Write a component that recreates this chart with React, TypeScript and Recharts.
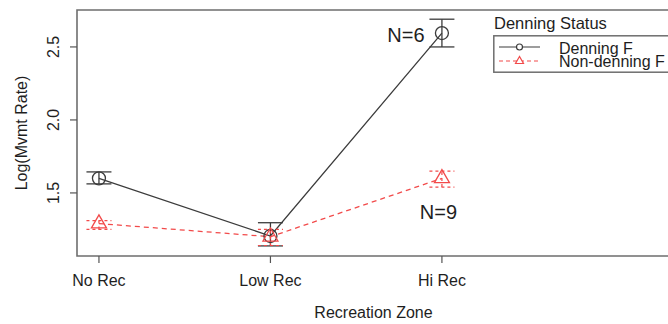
import React from 'react'
import { LineChart, Line, XAxis, YAxis, ErrorBar, ReferenceArea, ReferenceDot, Legend } from 'recharts'

// the page comes with an 8px body margin; drop it so the picture starts at 0,0
document.documentElement.style.overflow = 'hidden'
document.body.style.margin = '0'
document.body.style.overflow = 'hidden'

const FONT = '"Liberation Sans", Arial, Helvetica, sans-serif'
const DARK = '#3c3c3c'
const RED = '#f24a4a'
const BORDER = '#6e6e6e'
const TEXT = '#1e1e1e'

// Recreation zones on the x axis
const zones = ['No Rec', 'Low Rec', 'Hi Rec']
const zonePos = [1, 2, 3]

// Denning females: mean and error bar ends
const denningMean = [1.6, 1.205, 2.595]
const denningLow = [1.562, 1.137, 2.5]
const denningHigh = [1.644, 1.296, 2.69]

// Non-denning females
const nonDenMean = [1.29, 1.2, 1.6]
const nonDenLow = [1.25, 1.14, 1.54]
const nonDenHigh = [1.31, 1.25, 1.65]

const seriesNames = ['Denning F', 'Non-denning F']
const yTicks = [1.5, 2.0, 2.5]
const xDomain = [0.872, 4.33]
const yDomain = [1.068, 2.753]

// sample size notes
const notes = [
    { x: 2.79, y: 2.582, text: 'N=6' },
    { x: 2.98, y: 1.372, text: 'N=9' },
]

const data = zonePos.map((x, i) => ({
    x,
    denning: denningMean[i],
    denErr: [denningMean[i] - denningLow[i], denningHigh[i] - denningMean[i]],
    nonDen: nonDenMean[i],
    nonErr: [nonDenMean[i] - nonDenLow[i], nonDenHigh[i] - nonDenMean[i]],
}))

function CircleDot(props: any) {
    const { cx, cy, index } = props
    return <circle key={`c-${index}`} cx={cx} cy={cy} r={6.5} fill="none" stroke={DARK} strokeWidth={1.3} />
}

function TriangleDot(props: any) {
    const { cx, cy, index } = props
    const pts = `${cx},${cy - 8.7} ${cx - 7.5},${cy + 4.3} ${cx + 7.5},${cy + 4.3}`
    return <polygon key={`t-${index}`} points={pts} fill="none" stroke={RED} strokeWidth={1.3} />
}

function XTick({ x, y, payload }: any) {
    return (
        <text x={x} y={y + 21} textAnchor="middle" fontSize={16} fill={TEXT}>
            {zones[zonePos.indexOf(payload.value)]}
        </text>
    )
}

function YTick({ x, y, payload }: any) {
    const tx = x - 9
    return (
        <text x={tx} y={y} transform={`rotate(-90, ${tx}, ${y})`} textAnchor="middle" fontSize={16} fill={TEXT}>
            {Number(payload.value).toFixed(1)}
        </text>
    )
}

function XTitle({ viewBox }: any) {
    return (
        <text x={viewBox.x + viewBox.width / 2} y={318} textAnchor="middle" fontSize={16} fill={TEXT}>
            Recreation Zone
        </text>
    )
}

function YTitle({ viewBox }: any) {
    const cy = viewBox.y + viewBox.height / 2
    return (
        <text x={26.5} y={cy} transform={`rotate(-90, 26.5, ${cy})`} textAnchor="middle" fontSize={16} fill={TEXT}>
            Log(Mvmt Rate)
        </text>
    )
}

function LegendBox() {
    return (
        <div style={{ position: 'relative', width: 190, height: 62, fontFamily: FONT, color: TEXT }}>
            <div style={{ position: 'absolute', left: 1, top: 0, fontSize: 16.5, lineHeight: '22px', whiteSpace: 'nowrap' }}>
                Denning Status
            </div>
            <svg style={{ position: 'absolute', left: 0, top: 23 }} width={190} height={38}>
                <rect x={0.8} y={0.8} width={220} height={36.4} fill="none" stroke={BORDER} strokeWidth={1.5} />
                <line x1={6} y1={12} x2={47} y2={12} stroke={DARK} strokeWidth={1.2} />
                <circle cx={26.5} cy={12} r={3} fill="#fff" stroke={DARK} strokeWidth={1.2} />
                <text x={66} y={13} dominantBaseline="central" fontSize={16} fill={TEXT}>{seriesNames[0]}</text>
                <line x1={6} y1={26} x2={47} y2={26} stroke={RED} strokeWidth={1.2} strokeDasharray="4 3" />
                <polygon points="26.5,21.5 22.5,28.5 30.5,28.5" fill="#fff" stroke={RED} strokeWidth={1.2} />
                <text x={66} y={26.5} dominantBaseline="central" fontSize={16} fill={TEXT}>{seriesNames[1]}</text>
            </svg>
        </div>
    )
}

export default function App() {
    return (
        <div style={{ width: 668, height: 324, overflow: 'hidden', position: 'relative', background: '#fff', fontFamily: FONT }}>
            <LineChart width={690} height={324} data={data} margin={{ top: 10, right: 20, bottom: 0, left: 0 }}>
                <XAxis
                    type="number"
                    dataKey="x"
                    domain={xDomain}
                    allowDataOverflow
                    ticks={zonePos}
                    interval={0}
                    height={68}
                    axisLine={false}
                    tickSize={7}
                    tickLine={{ stroke: '#555', strokeWidth: 1.2 }}
                    tick={<XTick />}
                    label={{ content: XTitle }}
                />
                <YAxis
                    type="number"
                    domain={yDomain}
                    allowDataOverflow
                    ticks={yTicks}
                    interval={0}
                    width={77}
                    axisLine={false}
                    tickSize={7}
                    tickLine={{ stroke: '#555', strokeWidth: 1.2 }}
                    tick={<YTick />}
                    label={{ content: YTitle }}
                />
                <ReferenceArea
                    x1={xDomain[0]}
                    x2={xDomain[1]}
                    y1={yDomain[0]}
                    y2={yDomain[1]}
                    fill="none"
                    stroke={BORDER}
                    strokeWidth={1.6}
                    ifOverflow="visible"
                />
                <Line
                    type="linear"
                    dataKey="denning"
                    name={seriesNames[0]}
                    stroke={DARK}
                    strokeWidth={1.3}
                    dot={CircleDot}
                    activeDot={false}
                    isAnimationActive={false}
                >
                    <ErrorBar dataKey="denErr" direction="y" width={12.5} stroke={DARK} strokeWidth={1.3} />
                </Line>
                <Line
                    type="linear"
                    dataKey="nonDen"
                    name={seriesNames[1]}
                    stroke={RED}
                    strokeWidth={1.3}
                    strokeDasharray="5 4"
                    dot={TriangleDot}
                    activeDot={false}
                    isAnimationActive={false}
                >
                    <ErrorBar dataKey="nonErr" direction="y" width={12.5} stroke={RED} strokeWidth={1.2} strokeDasharray="3 3" />
                </Line>
                {notes.map(n => (
                    <ReferenceDot
                        key={n.text}
                        x={n.x}
                        y={n.y}
                        r={0}
                        fill="none"
                        stroke="none"
                        label={{ value: n.text, position: 'center', fontSize: 20, fill: TEXT }}
                    />
                ))}
                <Legend
                    layout="horizontal"
                    verticalAlign="middle"
                    align="center"
                    content={LegendBox}
                    wrapperStyle={{ left: 493, top: 12, width: 190 }}
                />
            </LineChart>
        </div>
    )
}
